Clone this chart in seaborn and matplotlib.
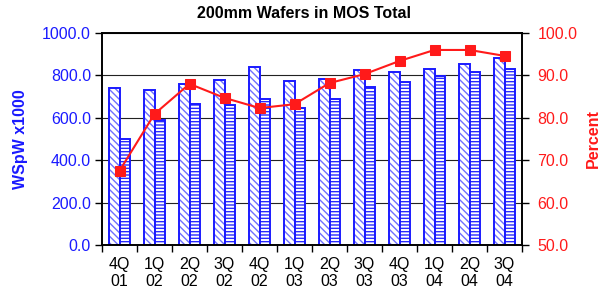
import numpy as np
import pandas as pd
import matplotlib
matplotlib.use("Agg")
import matplotlib.pyplot as plt
from matplotlib.colors import to_rgba
import seaborn as sns

quarters = ["4Q\n01", "1Q\n02", "2Q\n02", "3Q\n02", "4Q\n02", "1Q\n03",
            "2Q\n03", "3Q\n03", "4Q\n03", "1Q\n04", "2Q\n04", "3Q\n04"]
capacity = [740, 731, 759, 778, 840, 774, 783, 825, 816, 830, 854, 882]
actual = [500, 590, 665, 660, 689, 645, 689, 745, 769, 797, 816, 830]
percent = [67.5, 80.9, 88.0, 84.7, 82.3, 83.2, 88.2, 90.3, 93.4, 96.0, 96.0, 94.6]
left_ticks = [0, 200, 400, 600, 800, 1000]
right_ticks = [50, 60, 70, 80, 90, 100]

sns.set_style("white")
plt.rcParams["font.family"] = ["Liberation Sans", "DejaVu Sans"]
plt.rcParams["hatch.linewidth"] = 1.0

BLUE = "#1a1aff"
RED = "#ff1a1a"
HATCH_COLORS = ["#6f6fff", "#2a2aff"]

df = pd.DataFrame({
    "quarter": quarters * 2,
    "value": capacity + actual,
    "series": ["Capacity"] * len(quarters) + ["Actual"] * len(quarters),
})

fig = plt.figure(figsize=(6.08, 3.0), dpi=100)
ax = fig.add_axes([102 / 608, 55 / 300, 420 / 608, 212 / 300])

sns.barplot(data=df, x="quarter", y="value", hue="series",
            palette=["white", "white"], width=0.6, dodge=True, gap=0,
            saturation=1, edgecolor=BLUE, linewidth=1.4, legend=False, ax=ax)
for cont, h, hc in zip(ax.containers, ["\\\\\\\\\\", "-----"], HATCH_COLORS):
    for p in cont:
        p.set_hatch(h)
        p.set_edgecolor(BLUE)
        p._hatch_color = to_rgba(hc)

ax.set_ylim(0, 1000)
ax.set_yticks(left_ticks)
ax.set_yticklabels([f"{v:.1f}" for v in left_ticks], color=BLUE, fontsize=11.5)
ax.yaxis.grid(True, color="#222222", linewidth=0.8)
ax.set_axisbelow(True)
ax.tick_params(axis="y", direction="out", length=5, width=1, pad=3, left=True, color="black")
ax.set_xticks(range(len(quarters)))
ax.set_xticklabels(quarters, fontsize=11.5, color="black", linespacing=1.15)
ax.tick_params(axis="x", which="major", length=0, pad=9)
ax.set_xticks(np.arange(-0.5, len(quarters), 1), minor=True)
ax.tick_params(axis="x", which="minor", direction="out", length=5, width=1, bottom=True, color="black")
ax.set_xlabel("")
ax.set_ylabel("WSpW x1000", color=BLUE, fontsize=11.5, fontweight="bold", labelpad=10)
for s in ax.spines.values():
    s.set_color("black")
    s.set_linewidth(1.2)

ax2 = ax.twinx()
sns.lineplot(x=np.arange(len(quarters)), y=percent, color=RED, marker="s",
             markersize=7, markeredgecolor=RED, linewidth=1.5, ax=ax2)
ax2.set_ylim(50, 100)
ax2.set_yticks(right_ticks)
ax2.set_yticklabels([f"{v:.1f}" for v in right_ticks], color=RED, fontsize=11.5)
ax2.tick_params(axis="y", direction="out", length=5, width=1, pad=6, right=True, color="black")
ax2.set_ylabel("Percent", color=RED, fontsize=11.5, fontweight="bold", labelpad=6)
for s in ax2.spines.values():
    s.set_color("black")
    s.set_linewidth(1.2)
ax.set_xlim(-0.5, len(quarters) - 0.5)

fig.text(0.5, 0.955, "200mm Wafers in MOS Total", ha="center", va="center",
         fontsize=11.5, fontweight="bold", color="black")

fig.savefig("out.png", dpi=100)
